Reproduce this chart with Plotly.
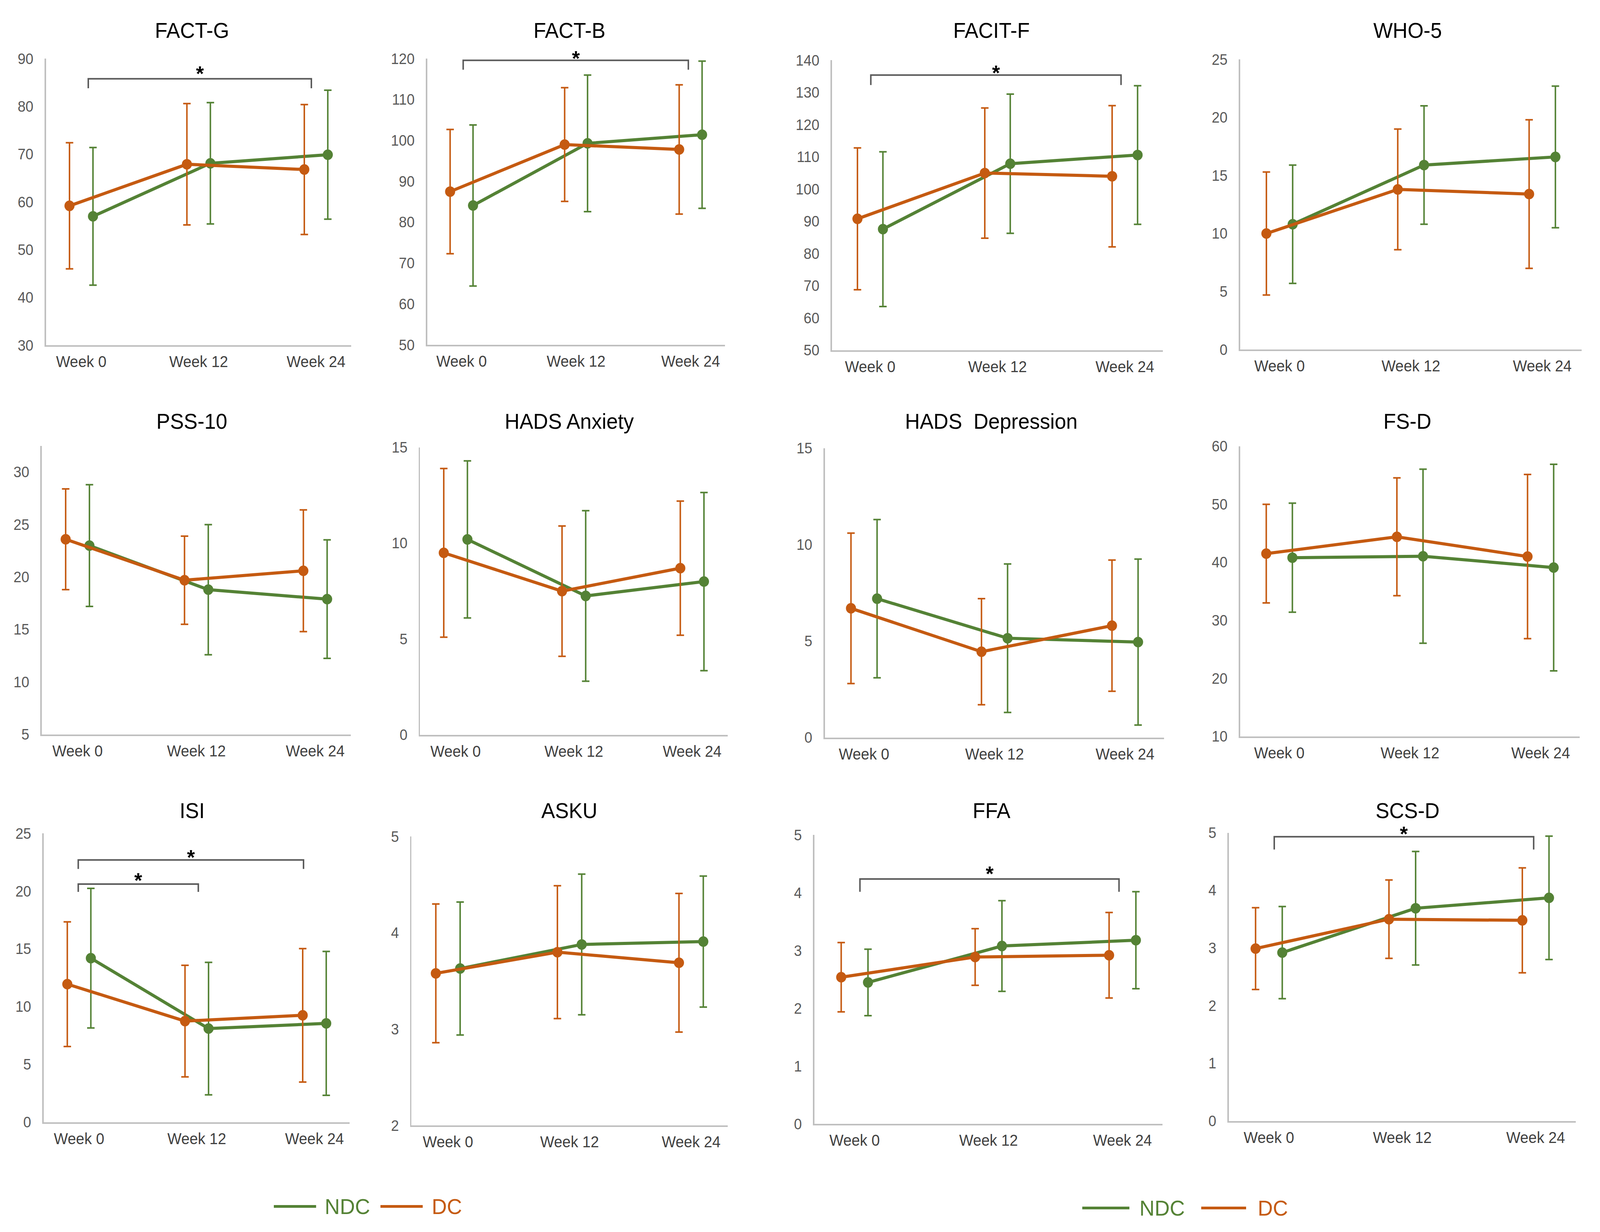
import plotly.graph_objects as go

W, H = 4277, 3155

WEEKS = ["Week 0", "Week 12", "Week 24"]
WEEK_POS = [0, 1, 2]

# ---------------- data (mean and SD) ----------------
FACT_G_NDC = [57.0, 68.1, 69.9]
FACT_G_NDC_SD = [14.4, 12.7, 13.5]
FACT_G_DC = [59.2, 67.9, 66.8]
FACT_G_DC_SD = [13.2, 12.7, 13.6]

FACT_B_NDC = [84.1, 99.3, 101.4]
FACT_B_NDC_SD = [19.7, 16.7, 18.0]
FACT_B_DC = [87.5, 99.0, 97.8]
FACT_B_DC_SD = [15.2, 13.9, 15.8]

FACIT_F_NDC = [87.6, 107.9, 110.6]
FACIT_F_NDC_SD = [24.0, 21.6, 21.5]
FACIT_F_DC = [90.8, 105.0, 104.0]
FACIT_F_DC_SD = [22.0, 20.2, 21.9]

WHO5_NDC = [10.8, 15.9, 16.6]
WHO5_NDC_SD = [5.1, 5.1, 6.1]
WHO5_DC = [10.0, 13.8, 13.4]
WHO5_DC_SD = [5.3, 5.2, 6.4]

PSS10_NDC = [23.0, 18.8, 17.9]
PSS10_NDC_SD = [5.8, 6.2, 5.65]
PSS10_DC = [23.6, 19.7, 20.6]
PSS10_DC_SD = [4.8, 4.2, 5.8]

HADS_A_NDC = [10.2, 7.25, 8.0]
HADS_A_NDC_SD = [4.1, 4.45, 4.65]
HADS_A_DC = [9.5, 7.5, 8.7]
HADS_A_DC_SD = [4.4, 3.4, 3.5]

HADS_D_NDC = [7.2, 5.15, 4.95]
HADS_D_NDC_SD = [4.1, 3.85, 4.3]
HADS_D_DC = [6.7, 4.45, 5.8]
HADS_D_DC_SD = [3.9, 2.75, 3.4]

FSD_NDC = [40.8, 41.05, 39.1]
FSD_NDC_SD = [9.4, 15.0, 17.8]
FSD_DC = [41.5, 44.4, 41.0]
FSD_DC_SD = [8.5, 10.15, 14.15]

ISI_NDC = [14.2, 8.1, 8.55]
ISI_NDC_SD = [6.05, 5.74, 6.23]
ISI_DC = [11.95, 8.75, 9.25]
ISI_DC_SD = [5.4, 4.83, 5.78]

ASKU_NDC = [3.63, 3.88, 3.91]
ASKU_NDC_SD = [0.69, 0.73, 0.68]
ASKU_DC = [3.58, 3.80, 3.69]
ASKU_DC_SD = [0.72, 0.69, 0.72]

FFA_NDC = [2.45, 3.08, 3.18]
FFA_NDC_SD = [0.575, 0.785, 0.84]
FFA_DC = [2.54, 2.89, 2.92]
FFA_DC_SD = [0.60, 0.49, 0.74]

SCSD_NDC = [2.92, 3.69, 3.87]
SCSD_NDC_SD = [0.80, 0.985, 1.07]
SCSD_DC = [2.99, 3.50, 3.48]
SCSD_DC_SD = [0.71, 0.68, 0.91]

TITLES = ["FACT-G", "FACT-B", "FACIT-F", "WHO-5",
          "PSS-10", "HADS Anxiety", "HADS\u00a0 Depression", "FS-D",
          "ISI", "ASKU", "FFA", "SCS-D"]
Y_RANGES = [[30, 90], [50, 120], [50, 140], [0, 25],
            [5, 32.5], [0, 15], [0, 15], [10, 60],
            [0, 25], [2, 5], [0, 5], [0, 5]]
Y_DTICK = [10, 10, 10, 5, 5, 5, 5, 10, 5, 1, 1, 1]

SERIES = [
    (FACT_G_NDC, FACT_G_NDC_SD, FACT_G_DC, FACT_G_DC_SD),
    (FACT_B_NDC, FACT_B_NDC_SD, FACT_B_DC, FACT_B_DC_SD),
    (FACIT_F_NDC, FACIT_F_NDC_SD, FACIT_F_DC, FACIT_F_DC_SD),
    (WHO5_NDC, WHO5_NDC_SD, WHO5_DC, WHO5_DC_SD),
    (PSS10_NDC, PSS10_NDC_SD, PSS10_DC, PSS10_DC_SD),
    (HADS_A_NDC, HADS_A_NDC_SD, HADS_A_DC, HADS_A_DC_SD),
    (HADS_D_NDC, HADS_D_NDC_SD, HADS_D_DC, HADS_D_DC_SD),
    (FSD_NDC, FSD_NDC_SD, FSD_DC, FSD_DC_SD),
    (ISI_NDC, ISI_NDC_SD, ISI_DC, ISI_DC_SD),
    (ASKU_NDC, ASKU_NDC_SD, ASKU_DC, ASKU_DC_SD),
    (FFA_NDC, FFA_NDC_SD, FFA_DC, FFA_DC_SD),
    (SCSD_NDC, SCSD_NDC_SD, SCSD_DC, SCSD_DC_SD),
]

# significance brackets: panel index, from week, to week, bracket level, leg end, star level
SIG_PANEL = [0, 1, 2, 8, 8, 10, 11]
SIG_FROM = [0.06, 0.014, 0.005, -0.007, -0.007, 0.04, 0.04]
SIG_TO = [1.96, 1.98, 1.97, 1.907, 1.013, 1.974, 1.985]
SIG_LEVEL = [85.8, 119.6, 135.4, 22.71, 20.62, 4.239, 4.931]
SIG_LEG = [83.8, 117.3, 132.3, 21.93, 19.94, 4.018, 4.709]
SIG_STAR = [87.7, 121.1, 137.4, 23.3, 21.3, 4.40, 5.05]

# ---------------- layout (pixel boxes of each plot area) ----------------
BOXES = [
    (123, 939, 131, 875), (1142, 1938, 131, 874), (2224, 3109, 135, 888), (3315, 4228, 133, 886),
    (112, 938, 1136, 1885), (1123, 1945, 1140, 1886), (2205, 3112, 1142, 1893), (3315, 4223, 1137, 1890),
    (117, 935, 2142, 2891), (1100, 1945, 2150, 2900), (2177, 3108, 2146, 2896), (3285, 4212, 2140, 2888),
]
TITLE_X = [513, 1522, 2650, 3762]
TITLE_Y = [58, 1072, 2083]

GREEN = "#548235"
ORANGE = "#C55A11"
OFFSET = 0.1
FONT = "Liberation Sans, Arial, sans-serif"

fig = go.Figure()
layout = dict(
    width=W, height=H, autosize=False,
    margin=dict(l=0, r=0, t=0, b=0),
    paper_bgcolor="white", plot_bgcolor="white",
    showlegend=False,
    font=dict(family=FONT),
)
shapes = []
annotations = []

for i in range(12):
    ax = "" if i == 0 else str(i + 1)
    xname, yname = "x" + ax, "y" + ax
    x0, x1, y0, y1 = BOXES[i]
    ndc, ndc_sd, dc, dc_sd = SERIES[i]

    for vals, sds, color, off in ((ndc, ndc_sd, GREEN, OFFSET), (dc, dc_sd, ORANGE, -OFFSET)):
        fig.add_trace(go.Scatter(
            x=[p + off for p in WEEK_POS], y=vals,
            mode="lines+markers",
            line=dict(color=color, width=8),
            marker=dict(color=color, size=27),
            error_y=dict(type="data", array=sds, visible=True,
                         color=color, thickness=4, width=10),
            xaxis=xname, yaxis=yname, cliponaxis=False,
        ))

    layout["xaxis" + ax] = dict(
        domain=[x0 / W, x1 / W], anchor=yname,
        range=[-0.3, 2.3], tickmode="array", tickvals=WEEK_POS, ticktext=WEEKS,
        showline=True, linecolor="#BFBFBF", linewidth=4,
        showgrid=False, zeroline=False,
        ticks="outside", ticklen=4, tickcolor="rgba(0,0,0,0)",
        tickfont=dict(size=40, color="#404040", family=FONT),
    )
    layout["yaxis" + ax] = dict(
        domain=[1 - y1 / H, 1 - y0 / H], anchor=xname,
        range=Y_RANGES[i], dtick=Y_DTICK[i], tick0=Y_RANGES[i][0],
        showline=True, linecolor="#BFBFBF", linewidth=4,
        showgrid=False, zeroline=False,
        ticks="outside", ticklen=22, tickcolor="rgba(0,0,0,0)",
        tickfont=dict(size=38, color="#595959", family=FONT),
    )
    annotations.append(dict(
        x=TITLE_X[i % 4] / W, y=1 - TITLE_Y[i // 4] / H, xref="paper", yref="paper",
        text=TITLES[i], showarrow=False, xanchor="center", yanchor="middle",
        font=dict(size=55, color="#000000", family=FONT),
    ))

for k in range(len(SIG_PANEL)):
    i = SIG_PANEL[k]
    ax = "" if i == 0 else str(i + 1)
    a, b = SIG_FROM[k], SIG_TO[k]
    top, leg = SIG_LEVEL[k], SIG_LEG[k]
    r0, r1 = Y_RANGES[i]
    shapes.append(dict(
        type="path", xref="x" + ax, yref="y" + ax,
        path=f"M {a},{leg} L {a},{top} L {b},{top} L {b},{leg}",
        line=dict(color="#595959", width=4),
    ))
    annotations.append(dict(
        x=(a + b) / 2, y=(SIG_STAR[k] - r0) / (r1 - r0),
        xref="x" + ax, yref="y" + ax + " domain",
        text="<b>*</b>", showarrow=False, xanchor="center", yanchor="middle",
        yshift=-10, font=dict(size=54, color="#000000", family=FONT),
    ))

# legends (two, under the bottom row)
LEGEND_Y = [3110, 3114]
LEGEND_SEG = [
    [(732, 845, GREEN, 866, "NDC"), (1017, 1130, ORANGE, 1152, "DC")],
    [(2893, 3019, GREEN, 3044, "NDC"), (3211, 3331, ORANGE, 3360, "DC")],
]
for li, items in enumerate(LEGEND_SEG):
    yy = 1 - LEGEND_Y[li] / H
    for (lx0, lx1, col, tx, label) in items:
        shapes.append(dict(type="line", xref="paper", yref="paper",
                           x0=lx0 / W, x1=lx1 / W, y0=yy, y1=yy,
                           line=dict(color=col, width=7)))
        annotations.append(dict(x=tx / W, y=yy, xref="paper", yref="paper",
                                text=label, showarrow=False, xanchor="left", yanchor="middle",
                                font=dict(size=56, color=col, family=FONT)))

layout["shapes"] = shapes
layout["annotations"] = annotations
fig.update_layout(**layout)

# the browser caps the window width, so fit the fixed-size figure to the visible window
FIT_JS = """
var gd = document.getElementById('{plot_id}');
document.documentElement.style.margin = '0';
document.body.style.margin = '0';
document.body.style.overflow = 'hidden';
document.documentElement.style.overflow = 'hidden';
var sx = Math.min(1, window.innerWidth / %d);
var sy = Math.min(1, window.innerHeight / %d);
gd.style.transformOrigin = '0 0';
gd.style.transform = 'scale(' + sx + ',' + sy + ')';
""" % (W, H)

fig.write_html("out.html", post_script=FIT_JS, config={"displayModeBar": False})
